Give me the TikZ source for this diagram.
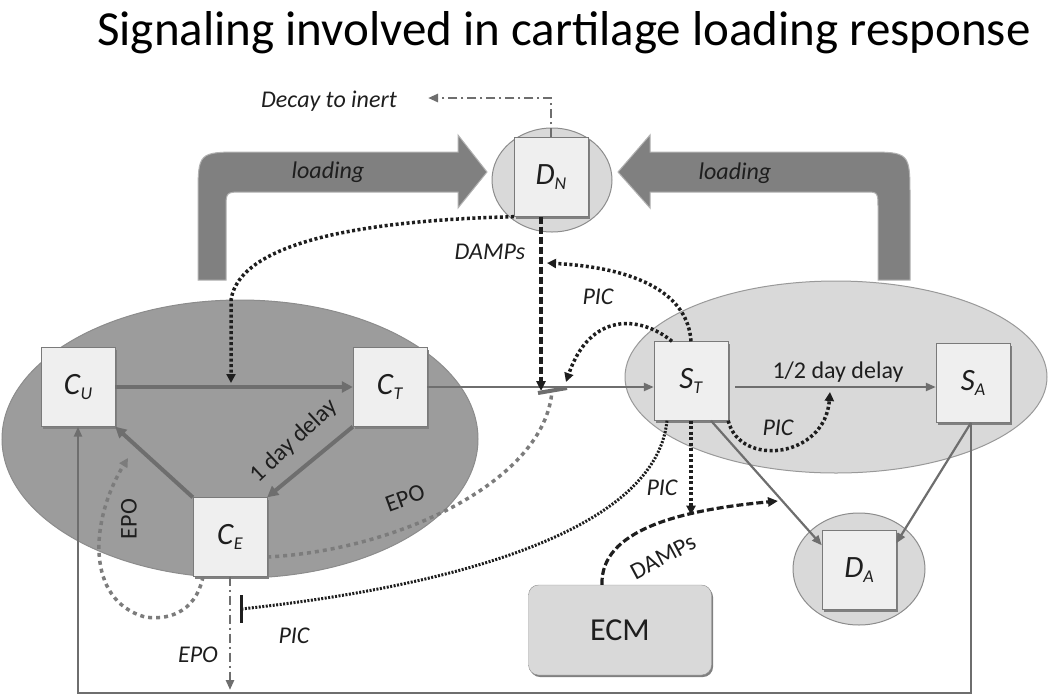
\documentclass[tikz,border=0pt]{standalone}
\usepackage{fontspec}
\setmainfont{Carlito}
\usetikzlibrary{arrows.meta,shadows}

\definecolor{ink}{HTML}{1E1E1E}
\definecolor{linegray}{HTML}{6E6E6E}
\definecolor{boxfill}{HTML}{EFEFEF}
\definecolor{boxline}{HTML}{7A7A7A}
\definecolor{cellfill}{HTML}{9C9C9C}
\definecolor{lightfill}{HTML}{D9D9D9}
\definecolor{loadfill}{HTML}{808080}
\definecolor{epogray}{HTML}{7C7C7C}

\newcommand{\cellname}[2]{\textit{#1}\raisebox{-0.35ex}{\fontsize{18}{18}\selectfont\textit{#2}}}

\begin{document}
\begin{tikzpicture}[x=1pt,y=-1pt,
  box/.style={draw=boxline,fill=boxfill,minimum width=74pt,minimum height=79pt,
    inner sep=0pt,font=\fontsize{31}{31}\selectfont,text=ink,
    drop shadow={shadow xshift=1.5pt,shadow yshift=-2pt,fill=black!50,opacity=1}},
  link/.style={draw=linegray,line width=2.2pt,-{Triangle[length=10pt,width=8pt]}},
  heavy/.style={draw=linegray,line width=4pt,-{Triangle[length=11pt,width=11pt]}},
  dots/.style={draw=ink,line width=3.5pt,dash pattern=on 3pt off 2.5pt,-{Triangle[length=9pt,width=9pt]}},
  epodash/.style={draw=epogray,line width=3.5pt,dash pattern=on 4pt off 4pt},
  dampsdash/.style={draw=ink,line width=3.2pt,dash pattern=on 7pt off 3pt,-{Triangle[length=10pt,width=9pt]}},
  dashdot/.style={draw=linegray,line width=2.8pt,dash pattern=on 9pt off 4pt on 2pt off 4pt,-{Triangle[length=10pt,width=8pt]}},
  lbl/.style={font=\fontsize{24}{24}\selectfont\itshape,text=ink,inner sep=1pt},
  uplbl/.style={font=\fontsize{24}{24}\selectfont,text=ink,inner sep=1pt},
  loadarrow/.style={fill=loadfill,draw=black!30,line width=1pt}]

  \useasboundingbox (0,0) rectangle (1050,697);

  \node[font=\fontsize{49}{49}\selectfont,text=black] (title) at (564,33)
    {Signaling involved in cartilage loading response};

  % compartments
  \filldraw[fill=cellfill,draw=black!45,line width=1pt] (240,439) ellipse [x radius=238pt,y radius=139pt];
  \filldraw[fill=lightfill,draw=black!40,line width=1pt] (836,377) ellipse [x radius=211pt,y radius=96pt];
  \filldraw[fill=lightfill,draw=black!45,line width=1pt] (552,180) ellipse [x radius=60pt,y radius=52pt];
  \filldraw[fill=lightfill,draw=black!45,line width=1pt] (859,569) ellipse [x radius=66pt,y radius=56pt];

  % loading arrows
  \filldraw[loadarrow] (198,280) -- (198,197) .. controls (198,152) .. (243,152)
    -- (458,152) -- (458,135) -- (487,172) -- (458,208) -- (458,192) -- (243,192)
    .. controls (226,192) .. (226,209) -- (226,280) -- cycle;
  \filldraw[loadarrow] (910,280) -- (910,197) .. controls (910,152) .. (865,152)
    -- (650,152) -- (650,135) -- (618,172) -- (650,208) -- (650,192) -- (865,192)
    .. controls (878,192) .. (878,209) -- (878,280) -- cycle;
  \node[lbl] (loadl) at (328,172) {loading};
  \node[lbl] (loadr) at (735,173) {loading};

  % states
  \node[box] (cu) at (78,387) {\cellname{C}{U}};
  \node[box] (ct) at (390,387) {\cellname{C}{T}};
  \node[box] (ce) at (230,537) {\cellname{C}{E}};
  \node[box] (st) at (691,381) {\cellname{S}{T}};
  \node[box] (sa) at (973,383) {\cellname{S}{A}};
  \node[box] (dn) at (551,177) {\cellname{D}{N}};
  \node[box] (da) at (859,570) {\cellname{D}{A}};
  \node[draw=black!45,fill=lightfill,rounded corners=10pt,minimum width=183pt,minimum height=90pt,
    font=\fontsize{32}{32}\selectfont,text=ink,
    drop shadow={shadow xshift=1.5pt,shadow yshift=-2pt,fill=black!50,opacity=1}] (ecm) at (620,630) {ECM};

  \coordinate (j1) at (231,387);
  \coordinate (j2) at (541,387);
  \coordinate (bar) at (552,391);
  \coordinate (decay) at (428,98);
  \coordinate (halfway) at (830,392);
  \coordinate (picbar) at (241,609);

  % transitions
  \draw[heavy] (cu) -- (ct);
  \draw[heavy] (ct.south west) -- (ce.north east);
  \draw[heavy] (ce.north west) -- (cu.south east);
  \draw[link] (ct.east) -- (st.west |- ct.east);
  \draw[link,shorten <=7pt] (st.east |- 0,387) -- (sa.west |- 0,387);
  \draw[link] ([xshift=20pt]st.south) -- ([yshift=-15pt]da.north west);
  \draw[link] ([xshift=-2pt]sa.south) -- ([yshift=-13pt]da.north east);
  \draw[link] ([xshift=-2pt]sa.south) -- ++(0,270) -| (cu.south);
  \node[uplbl,rotate=43] (oneday) at (294,441) {1 day delay};
  \node[uplbl] (halfday) at (838,372) {1/2 day delay};

  % decay
  \draw[dashdot] (dn.north) -- (dn.north |- decay) -- (decay);
  \node[lbl] (decaylbl) at (329,101) {Decay to inert};

  % DAMPs
  \draw[dampsdash] ([xshift=-10pt]dn.south) -- ([xshift=-10pt,yshift=-4pt]dn.south |- j2);
  \node[lbl] (dampsn) at (490,252) {DAMPs};
  \draw[dots] (dn.south west) .. controls (380,220) and (240,238) .. (231,300) -- ([yshift=4pt]j1);
  \draw[dampsdash] ([xshift=-18pt]ecm.north) .. controls (600,530) and (680,510) .. (778,501);
  \node[uplbl,rotate=28] (dampse) at (663,557) {DAMPs};

  % PIC
  \draw[dots] (st.north) .. controls (688,295) and (640,268) .. (547,263);
  \node[lbl] (pic1) at (598,297) {PIC};
  \draw[dots] ([xshift=-19pt]st.north) .. controls (640,315) and (590,312) .. (566,382);
  \draw[dots] (st.south east) .. controls (740,468) and (825,458) .. (halfway);
  \node[lbl] (pic2) at (778,428) {PIC};
  \draw[dots] (st.south) -- ++(0,94);
  \draw[draw=ink,line width=3pt,dash pattern=on 2pt off 1.5pt] ([xshift=-24pt]st.south)
    .. controls (655,540) and (420,590) .. (picbar);
  \draw[draw=ink,line width=3pt] ([yshift=14pt]picbar) -- ([yshift=-14pt]picbar);
  \node[lbl] (pic3) at (662,488) {PIC};
  \node[lbl] (pic4) at (294,636) {PIC};

  % EPO
  \draw[epodash] ([yshift=-20pt]ce.east) .. controls (400,550) and (545,480) .. (bar);
  \draw[draw=linegray,line width=4pt] ([xshift=-14pt,yshift=-2pt]bar) -- ([xshift=15pt,yshift=3pt]bar);
  \node[uplbl,rotate=20] (epo1) at (405,498) {EPO};
  \draw[epodash,-{Triangle[length=9pt,width=9pt]}] ([xshift=-27pt]ce.south)
    .. controls (195,615) and (165,620) .. (145,617) .. controls (85,600) and (90,520) .. (128,458);
  \node[uplbl,rotate=90] (epo2) at (129,519) {EPO};
  \draw[dashdot] (ce.south) -- (ce.south |- 0,690);
  \node[lbl] (epo3) at (198,655) {EPO};
\end{tikzpicture}
\end{document}
